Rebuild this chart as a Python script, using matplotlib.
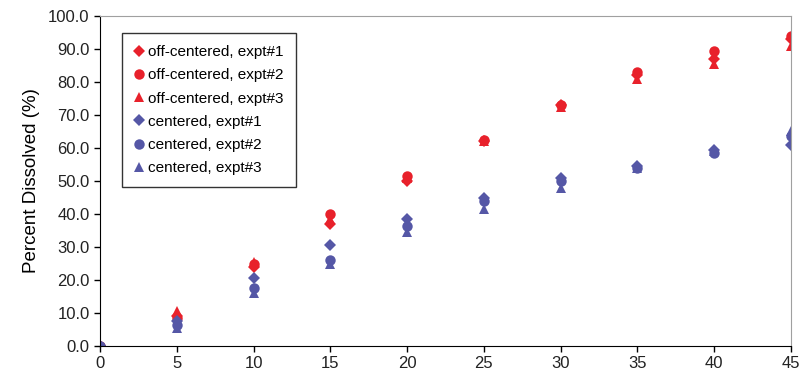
import matplotlib
matplotlib.use("Agg")
import matplotlib.pyplot as plt

plt.rcParams['font.family'] = ['Liberation Sans', 'DejaVu Sans']

time = [0, 5, 10, 15, 20, 25, 30, 35, 40, 45]

off_e1 = [0, 9.0, 24.0, 37.0, 50.0, 62.0, 73.0, 82.0, 87.0, 93.0]
off_e2 = [0, 8.5, 25.0, 40.0, 51.5, 62.5, 73.0, 83.0, 89.5, 94.0]
off_e3 = [0, 10.5, 25.5, 38.5, 51.0, 62.0, 72.5, 81.0, 85.5, 91.0]
cen_e1 = [0, 7.5, 20.5, 30.5, 38.5, 45.0, 51.0, 54.5, 59.5, 61.0]
cen_e2 = [0, 6.5, 17.5, 26.0, 36.5, 44.0, 50.0, 54.0, 58.5, 63.5]
cen_e3 = [0, 5.5, 16.0, 25.0, 34.5, 41.5, 48.0, 54.0, 59.0, 65.0]

labels = ["off-centered, expt#1", "off-centered, expt#2", "off-centered, expt#3",
          "centered, expt#1", "centered, expt#2", "centered, expt#3"]

red = "#e8212b"
blue = "#5557a6"

fig = plt.figure(figsize=(8.08, 3.72), dpi=100)
ax = fig.add_axes([100/808, 26/372, 691/808, 330/372])

series = [(off_e1, 'D', red, 6.5), (off_e2, 'o', red, 7.5), (off_e3, '^', red, 7.5),
          (cen_e1, 'D', blue, 6.5), (cen_e2, 'o', blue, 7.5), (cen_e3, '^', blue, 7.5)]
for (vals, mk, col, ms), lab in zip(series, labels):
    ax.plot(time, vals, linestyle='none', marker=mk, color=col, markersize=ms,
            markeredgewidth=0, label=lab)

ax.set_xlim(0, 45)
ax.set_ylim(0, 100)
ax.set_xticks(range(0, 46, 5))
ax.set_yticks(range(0, 101, 10))
ax.set_yticklabels([f"{v:.1f}" for v in range(0, 101, 10)])
ax.tick_params(axis='both', direction='out', length=4, width=1, labelsize=12,
               labelcolor='#222222')
ax.set_ylabel("Percent Dissolved (%)", fontsize=13.5, labelpad=6)

for s in ['top', 'right']:
    ax.spines[s].set_color('#a0a0a0')
for s in ['left', 'bottom']:
    ax.spines[s].set_color('black')

leg = ax.legend(loc='upper left', bbox_to_anchor=(22/691, 313/330), frameon=True,
                fancybox=False, edgecolor='black', fontsize=11, handlelength=0.6,
                handletextpad=0.3, labelspacing=0.6, borderpad=0.8,
                borderaxespad=0)
leg.get_frame().set_linewidth(1)

fig.savefig("out.png", dpi=100)
